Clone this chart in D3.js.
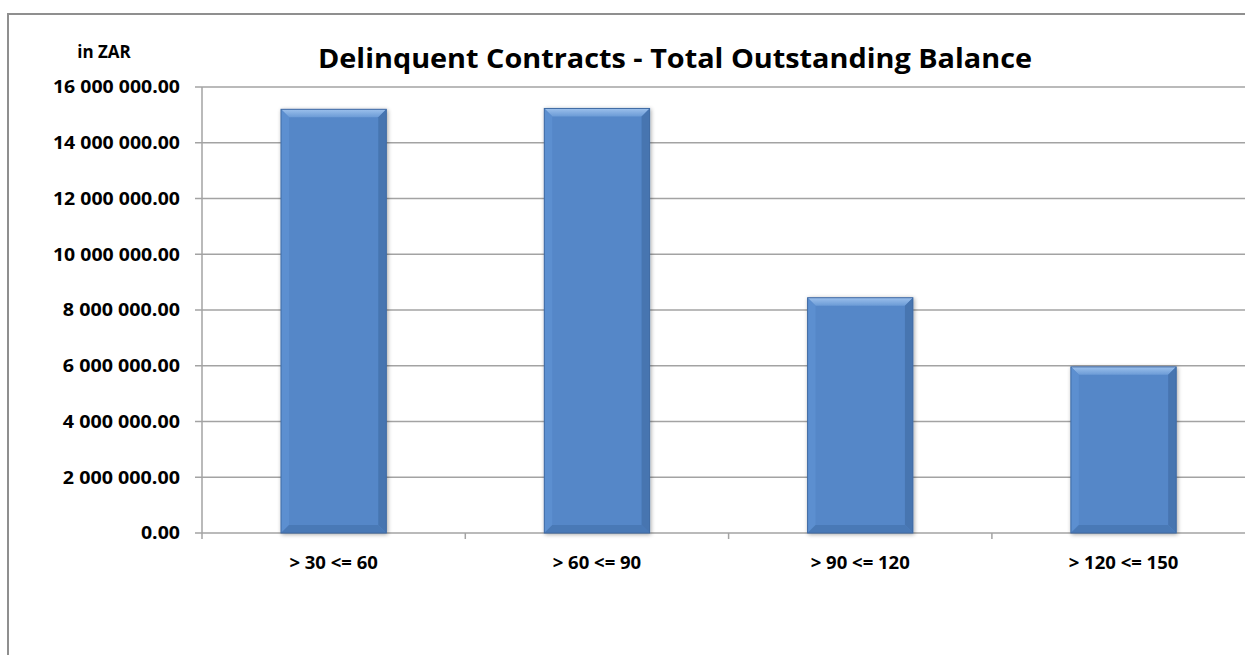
<!DOCTYPE html>
<html>
<head>
<meta charset="utf-8">
<script src="https://cdn.jsdelivr.net/npm/d3@7"></script>
<style>
  body { margin: 0; background: #fff; }
  svg { display: block; }
  text { font-family: "Open Sans", "Liberation Sans", sans-serif; font-weight: bold; fill: #000; }
</style>
</head>
<body>
<svg id="chart"></svg>
<script>
// data
const categories = ["> 30 <= 60", "> 60 <= 90", "> 90 <= 120", "> 120 <= 150"];
const balances = [15200000, 15230000, 8440000, 5960000];
const yTicks = [0, 2000000, 4000000, 6000000, 8000000, 10000000, 12000000, 14000000, 16000000];

const width = 1245;
const height = 655;
const x0 = 202, yBottom = 533, yTop = 87;
const band = 263.3;

const svg = d3.select("#chart").attr("width", width).attr("height", height);

// outer chart border
svg.append("rect")
  .attr("x", 8).attr("y", 14)
  .attr("width", 1300).attr("height", 700)
  .attr("fill", "none").attr("stroke", "#8f8f8f").attr("stroke-width", 2);

const xScale = d3.scaleBand()
  .domain(categories)
  .range([x0, x0 + band * categories.length])
  .paddingInner(0.6).paddingOuter(0.3);

const yScale = d3.scaleLinear()
  .domain([0, 16000000])
  .range([yBottom, yTop]);

const fmt = (v) => d3.format(",.2f")(v).replace(/,/g, " ");

// gridlines
svg.append("g")
  .selectAll("line")
  .data(yTicks)
  .enter()
  .append("line")
  .attr("x1", x0 - 7).attr("x2", width)
  .attr("y1", (d) => yScale(d)).attr("y2", (d) => yScale(d))
  .attr("stroke", "#a3a3a3").attr("stroke-width", 1.5);

// y axis line
svg.append("line")
  .attr("x1", x0).attr("x2", x0)
  .attr("y1", yTop).attr("y2", yBottom + 6)
  .attr("stroke", "#a3a3a3").attr("stroke-width", 1.5);

// y tick labels
svg.append("g")
  .selectAll("text")
  .data(yTicks)
  .enter()
  .append("text")
  .attr("x", x0 - 22)
  .attr("y", (d) => yScale(d))
  .attr("dy", "0.36em")
  .attr("text-anchor", "end")
  .style("font-size", "17.5px")
  .attr("textLength", (d) => fmt(d).length * 9.77)
  .attr("lengthAdjust", "spacingAndGlyphs")
  .text((d) => fmt(d));

// x ticks between categories
const xTickPos = d3.range(1, categories.length).map((i) => x0 + i * band);
svg.append("g")
  .selectAll("line")
  .data(xTickPos)
  .enter()
  .append("line")
  .attr("x1", (d) => d).attr("x2", (d) => d)
  .attr("y1", yBottom).attr("y2", yBottom + 6)
  .attr("stroke", "#a3a3a3").attr("stroke-width", 1.5);

// x labels
svg.append("g")
  .selectAll("text")
  .data(categories)
  .enter()
  .append("text")
  .attr("x", (d) => xScale(d) + xScale.bandwidth() / 2)
  .attr("y", 562)
  .attr("dy", "0.36em")
  .attr("text-anchor", "middle")
  .style("font-size", "18.5px")
  .text((d) => d);

// bars with bevel
const defs = svg.append("defs");
const shadow = defs.append("filter").attr("id", "shadow")
  .attr("x", "-10%").attr("y", "-10%").attr("width", "130%").attr("height", "130%");
shadow.append("feGaussianBlur").attr("in", "SourceAlpha").attr("stdDeviation", 2);
shadow.append("feOffset").attr("dx", 1).attr("dy", 1).attr("result", "b");
shadow.append("feComponentTransfer").append("feFuncA").attr("type", "linear").attr("slope", 0.35);
const merge = shadow.append("feMerge");
merge.append("feMergeNode");
merge.append("feMergeNode").attr("in", "SourceGraphic");

const topGrad = defs.append("linearGradient").attr("id", "topGrad")
  .attr("x1", 0).attr("y1", 0).attr("x2", 0).attr("y2", 1);
topGrad.append("stop").attr("offset", "0%").attr("stop-color", "#9cc0ec");
topGrad.append("stop").attr("offset", "100%").attr("stop-color", "#6b9bd6");

const bevel = 8;
const bars = svg.append("g")
  .selectAll("g")
  .data(categories.map((c, i) => ({ cat: c, val: balances[i] })))
  .enter()
  .append("g")
  .attr("filter", "url(#shadow)");

bars.append("rect")
  .attr("x", (d) => xScale(d.cat))
  .attr("y", (d) => yScale(d.val))
  .attr("width", xScale.bandwidth())
  .attr("height", (d) => yBottom - yScale(d.val))
  .attr("fill", "#5587c8");

const facet = (d, side) => {
  const l = xScale(d.cat), r = l + xScale.bandwidth();
  const t = yScale(d.val), b = yBottom, k = bevel;
  if (side === "top") return [[l, t], [r, t], [r - k, t + k], [l + k, t + k]];
  if (side === "left") return [[l, t], [l + k, t + k], [l + k, b - k], [l, b]];
  if (side === "right") return [[r, t], [r, b], [r - k, b - k], [r - k, t + k]];
  return [[l, b], [l + k, b - k], [r - k, b - k], [r, b]];
};
const facetFill = { top: "url(#topGrad)", left: "#5c8fd0", right: "#4674b0", bottom: "#4a79b6" };
["top", "left", "right", "bottom"].forEach((side) => {
  bars.append("polygon")
    .attr("points", (d) => facet(d, side).map((p) => p.join(",")).join(" "))
    .attr("fill", facetFill[side]);
});
bars.append("rect")
  .attr("x", (d) => xScale(d.cat))
  .attr("y", (d) => yScale(d.val))
  .attr("width", xScale.bandwidth())
  .attr("height", (d) => yBottom - yScale(d.val))
  .attr("fill", "none")
  .attr("stroke", "#3f6aa3").attr("stroke-width", 1);

// title and unit label
svg.append("text")
  .attr("x", 675).attr("y", 68)
  .attr("text-anchor", "middle")
  .attr("textLength", 714).attr("lengthAdjust", "spacingAndGlyphs")
  .style("font-size", "26px")
  .text("Delinquent Contracts - Total Outstanding Balance");

svg.append("text")
  .attr("x", 104).attr("y", 52)
  .attr("dy", "0.36em")
  .attr("text-anchor", "middle")
  .style("font-size", "17px")
  .text("in ZAR");
</script>
</body>
</html>
